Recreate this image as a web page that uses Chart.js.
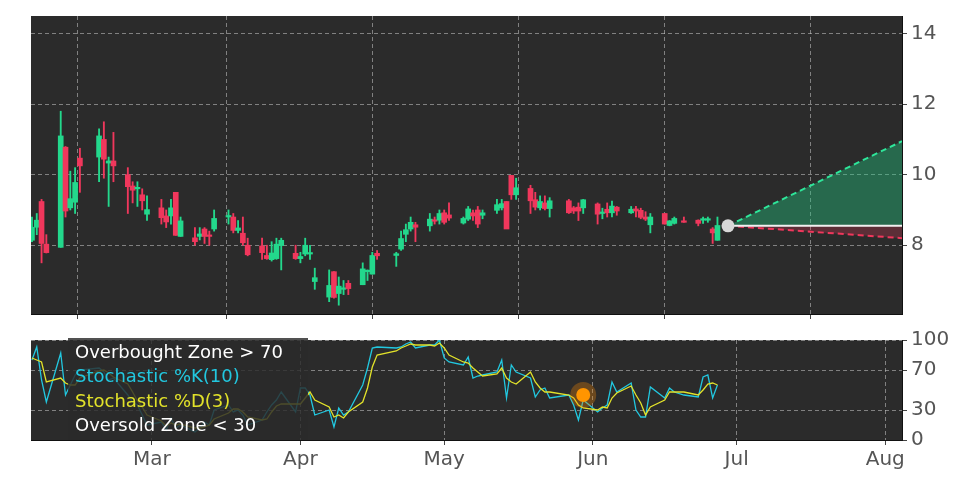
<!DOCTYPE html>
<html>
<head>
<meta charset="utf-8">
<script src="https://cdn.jsdelivr.net/npm/chart.js@4/dist/chart.umd.min.js"></script>
<style>
  body { margin: 0; background: #fff; }
  #wrap { position: relative; width: 972px; height: 486px; overflow: hidden; }
  canvas { position: absolute; left: 0; }
</style>
</head>
<body>
<div id="wrap">
  <canvas id="price" style="top:0"></canvas>
  <canvas id="stoch" style="top:324px"></canvas>
</div>
<script>
// day of year (Jan 1 = 0)
const days = [34,35,36,37,40,41,42,43,44,48,49,50,51,54,55,56,57,58,61,62,63,64,65,68,69,70,71,72,75,76,77,78,79,82,83,84,85,86,89,90,91,92,93,96,97,98,99,100,103,104,105,106,110,111,112,113,114,117,118,119,120,121,124,125,126,127,128,131,132,133,134,135,138,139,140,141,142,146,147,148,149,152,153,154,155,156,159,160,161,162,163,166,167,168,170,173,174,175,176,177];
const opens = [8.14,8.51,9.24,8.03,7.94,10.78,9.06,9.22,10.47,10.5,11.0,10.33,10.39,10.0,9.68,9.6,9.43,8.88,9.06,8.83,8.83,9.5,8.25,8.21,8.25,8.46,8.27,8.46,8.8,8.8,8.42,8.34,8.0,7.98,7.71,7.59,7.62,7.99,7.77,7.62,7.75,7.75,6.97,6.53,7.25,6.63,6.75,6.92,6.88,7.25,7.18,7.77,7.71,7.89,8.31,8.46,8.58,8.55,8.7,8.71,8.92,8.86,8.63,8.74,8.92,9.0,8.85,8.99,9.06,9.24,9.98,9.43,9.61,9.29,9.06,9.2,9.04,9.26,9.06,9.08,9.06,9.17,8.9,9.02,8.92,9.08,8.92,9.03,8.99,8.8,8.58,8.9,8.56,8.62,8.67,8.71,8.71,8.71,8.46,8.14];
const highs = [8.8,8.9,9.3,8.3,11.8,10.8,10.1,10.2,10.75,11.3,11.5,10.5,11.2,10.2,9.8,9.8,9.6,9.4,9.3,9.0,9.3,9.5,8.8,8.5,8.5,8.5,8.4,9.0,9.0,8.9,8.7,8.8,8.2,8.2,8.0,8.1,8.2,8.2,8.0,7.8,8.2,8.0,7.35,7.3,7.25,7.1,7.0,7.0,7.5,7.3,7.8,7.85,7.8,8.4,8.6,8.8,8.65,8.9,8.8,9.0,9.0,9.2,8.8,9.1,9.0,9.1,9.0,9.3,9.3,9.24,9.98,9.9,9.7,9.5,9.4,9.4,9.35,9.3,9.1,9.2,9.3,9.2,9.05,9.2,9.25,9.1,9.1,9.1,9.05,8.95,8.9,8.9,8.7,8.8,8.8,8.72,8.8,8.8,8.5,8.8];
const lows = [8.1,8.3,7.5,7.78,7.94,8.8,9.0,8.9,9.5,9.8,9.9,9.1,9.8,8.9,9.2,9.1,9.0,8.7,8.6,8.5,8.6,8.28,8.25,8.0,8.15,8.05,8.0,8.4,8.6,8.35,8.35,8.0,7.7,7.6,7.6,7.55,7.6,7.3,7.6,7.5,7.7,7.6,6.75,6.4,6.5,6.3,6.6,6.6,6.88,7.0,7.18,7.6,7.4,7.85,8.1,8.4,8.1,8.4,8.6,8.6,8.6,8.7,8.6,8.7,8.7,8.5,8.75,8.9,9.0,8.5,9.3,9.3,8.9,9.0,9.0,9.0,8.8,8.9,8.9,8.7,8.9,8.6,8.75,8.8,8.8,8.85,8.9,8.8,8.75,8.7,8.35,8.6,8.55,8.6,8.65,8.55,8.62,8.65,8.05,8.14];
const closes = [8.51,8.71,8.05,7.79,11.1,8.97,9.32,9.78,10.25,11.1,10.44,10.39,10.25,9.66,9.56,9.62,9.26,9.01,8.78,8.66,9.06,8.28,8.69,8.1,8.32,8.25,8.25,8.76,8.82,8.42,8.49,8.07,7.73,7.79,7.62,7.78,8.03,8.14,7.62,7.68,8.0,7.77,7.08,6.86,6.52,6.84,6.77,6.77,7.33,7.27,7.71,7.7,7.76,8.19,8.44,8.65,8.51,8.74,8.68,8.9,8.65,8.77,8.76,9.03,8.83,8.6,8.92,9.15,9.18,8.46,9.43,9.63,9.26,9.08,9.24,9.04,9.26,8.92,8.97,8.97,9.29,8.88,8.92,8.92,9.11,8.97,9.02,8.97,8.79,8.74,8.8,8.6,8.69,8.76,8.65,8.62,8.72,8.72,8.35,8.56];

const stochK = [80,93,60,38,87,45,55,65,70,72,68,60,62,45,38,35,25,15,18,10,22,12,15,8,12,18,15,30,35,28,30,25,15,20,28,35,40,48,28,52,52,45,25,30,13,32,25,28,55,72,92,93,92,93,96,98,92,95,95,100,82,78,75,83,62,64,65,68,80,42,75,68,62,43,50,52,42,45,35,20,40,28,32,35,58,48,57,30,23,23,53,42,52,48,45,43,63,65,42,55];
const stochD = [82,80,78,58,62,57,55,55,62,69,70,67,63,56,48,39,33,25,19,14,17,15,16,12,12,13,15,21,27,31,31,28,23,20,21,28,34,36,36,36,42,48,40,33,23,25,22,28,38,52,73,85,89,92,94,96,95,95,94,97,92,85,78,77,72,68,64,66,72,62,58,56,68,58,52,48,48,45,42,35,32,30,33,32,42,47,54,45,37,25,33,40,48,48,48,45,50,56,57,55];

const forecastDays = [179.2, 215.5];
const forecastBase = [8.55, 8.55];
const forecastHigh = [8.55, 10.95];
const forecastLow = [8.55, 8.2];
const signalDay = 149;
const signalValue = 45;

const monthDays = [59, 90, 120, 151, 181, 212];
const monthLabels = ['Mar', 'Apr', 'May', 'Jun', 'Jul', 'Aug'];
const priceTicks = [8, 10, 12, 14];
const stochTicks = [0, 30, 70, 100];

const GREEN = '#23d88c', RED = '#f0375c';
const colors = days.map((d, i) => closes[i] >= opens[i] ? GREEN : RED);
const xMin = 33.8, xMax = 215.5;

const bgPlugin = {
    id: 'bg',
    beforeDraw(chart) {
        const a = chart.chartArea, c = chart.ctx;
        c.save();
        c.fillStyle = '#2b2b2b';
        c.fillRect(a.left, a.top, a.right - a.left, a.bottom - a.top);
        c.restore();
    }
};

const gridStyle = { color: 'rgba(200,200,200,0.55)', lineWidth: 1, tickLength: 5, tickColor: '#444' };
const borderStyle = { color: '#111', dash: [4, 3] };

function xAxis(showLabels, h) {
    return {
        type: 'linear', min: xMin, max: xMax, offset: false,
        afterBuildTicks: s => { s.ticks = monthDays.map(v => ({ value: v })); },
        afterFit: s => { s.height = h; },
        grid: gridStyle,
        border: borderStyle,
        ticks: {
            color: showLabels ? '#555' : 'rgba(0,0,0,0)', maxRotation: 0, autoSkip: false,
            font: { family: 'DejaVu Sans', size: showLabels ? 20 : 2 },
            callback: v => showLabels ? monthLabels[monthDays.indexOf(v)] : ''
        }
    };
}

function yAxis(min, max, ticks) {
    return {
        position: 'right', min: min, max: max,
        afterBuildTicks: s => { s.ticks = ticks.map(v => ({ value: v })); },
        afterFit: s => { s.width = 70; },
        grid: gridStyle,
        border: borderStyle,
        ticks: { color: '#555', padding: 4, font: { family: 'DejaVu Sans', size: 20 } }
    };
}

const pc = document.getElementById('price');
pc.width = 972; pc.height = 330;
new Chart(pc, {
    data: {
        datasets: [
            {
                type: 'bar', data: days.map((d, i) => ({ x: d, y: [lows[i], highs[i]] })),
                backgroundColor: colors, barThickness: 1.2, grouped: false, order: 3
            },
            {
                type: 'bar', data: days.map((d, i) => ({ x: d, y: [opens[i], closes[i]] })),
                backgroundColor: colors, barThickness: 5, grouped: false, minBarLength: 1.5, order: 2
            },
            {
                type: 'line', data: forecastDays.map((d, i) => ({ x: d, y: forecastBase[i] })),
                borderColor: '#f0f0f0', borderWidth: 2, pointRadius: 0, order: 1
            },
            {
                type: 'line', data: forecastDays.map((d, i) => ({ x: d, y: forecastHigh[i] })),
                borderColor: '#2ee69a', borderWidth: 2, borderDash: [6, 4], pointRadius: 0,
                fill: { target: 2 }, backgroundColor: 'rgba(35,200,130,0.4)', order: 1
            },
            {
                type: 'line', data: forecastDays.map((d, i) => ({ x: d, y: forecastLow[i] })),
                borderColor: '#f0375c', borderWidth: 2, borderDash: [6, 4], pointRadius: 0,
                fill: { target: 2 }, backgroundColor: 'rgba(240,55,92,0.25)', order: 1
            },
            {
                type: 'scatter', data: [{ x: forecastDays[0], y: forecastBase[0] }],
                pointRadius: 6.5, backgroundColor: '#d8d8d8', borderWidth: 0, order: 0
            }
        ]
    },
    options: {
        responsive: false, animation: false,
        layout: { padding: { left: 31, top: 16, right: 0 } },
        plugins: { legend: { display: false }, tooltip: { enabled: false } },
        scales: { x: xAxis(false, 7), y: yAxis(6.05, 14.5, priceTicks) }
    },
    plugins: [bgPlugin]
});

const legendPlugin = {
    id: 'stochLegend',
    afterDatasetsDraw(chart) {
        const c = chart.ctx, top = chart.chartArea.top;
        c.save();
        c.fillStyle = 'rgba(43,43,43,0.82)';
        c.fillRect(68, top - 2, 240, chart.chartArea.bottom - top + 2);
        c.font = '18px "DejaVu Sans"';
        c.textBaseline = 'middle';
        const rows = [['Overbought Zone > 70', '#ffffff'], ['Stochastic %K(10)', '#22c8e0'],
                      ['Stochastic %D(3)', '#e2e22a'], ['Oversold Zone < 30', '#ffffff']];
        rows.forEach((r, i) => { c.fillStyle = r[1]; c.fillText(r[0], 75, top + 13 + i * 24.5); });
        c.restore();
    }
};

const sc = document.getElementById('stoch');
sc.width = 972; sc.height = 162;
new Chart(sc, {
    type: 'line',
    data: {
        datasets: [
            { data: days.map((d, i) => ({ x: d, y: stochK[i] })), borderColor: '#22c8e0', borderWidth: 1.3, pointRadius: 0, order: 2 },
            { data: days.map((d, i) => ({ x: d, y: stochD[i] })), borderColor: '#e2e22a', borderWidth: 1.3, pointRadius: 0, order: 1 },
            { type: 'scatter', data: [{ x: signalDay, y: signalValue }], pointRadius: 13, backgroundColor: 'rgba(255,140,0,0.3)', borderWidth: 0, order: 0 },
            { type: 'scatter', data: [{ x: signalDay, y: signalValue }], pointRadius: 7, backgroundColor: '#ff9a00', borderWidth: 0, order: 0 }
        ]
    },
    options: {
        responsive: false, animation: false,
        layout: { padding: { left: 31, top: 7, right: 0 } },
        plugins: { legend: { display: false }, tooltip: { enabled: false } },
        scales: { x: xAxis(true, 46), y: yAxis(0, 100, stochTicks) }
    },
    plugins: [bgPlugin, legendPlugin]
});
</script>
</body>
</html>
